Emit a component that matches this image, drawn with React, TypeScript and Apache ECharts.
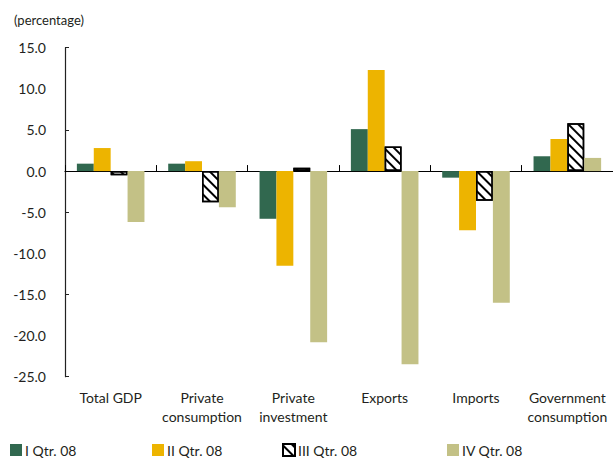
import React, { useEffect, useRef } from "react";
import * as echarts from "echarts";

const categories = [
  "Total GDP",
  "Private\nconsumption",
  "Private\ninvestment",
  "Exports",
  "Imports",
  "Government\nconsumption",
];
const seriesNames = ["I Qtr. 08", "II Qtr. 08", "III Qtr. 08", "IV Qtr. 08"];
const q1 = [0.9, 0.9, -5.8, 5.1, -0.8, 1.8];
const q2 = [2.8, 1.2, -11.5, 12.3, -7.2, 3.9];
const q3 = [-0.5, -3.8, 0.4, 3.0, -3.6, 5.8];
const q4 = [-6.2, -4.4, -20.8, -23.5, -16.0, 1.6];
const yMin = -25;
const yMax = 15;

const FONT = "Lato";
const TXT = "#231f20";

export default function App() {
  const ref = useRef<HTMLDivElement>(null);
  useEffect(() => {
    document.body.style.margin = "0";
    const chart = echarts.init(ref.current!, null, { renderer: "svg" });
    const hatch = {
      symbol: "rect",
      symbolSize: 1,
      color: "#000",
      backgroundColor: "#fff",
      dashArrayX: [1, 0],
      dashArrayY: [1.6, 4.4],
      rotation: Math.PI / 4,
    };
    const colors = ["#31684f", "#edb400", "#ffffff", "#c3c186"];
    const datas = [q1, q2, q3, q4];
    const legendLefts = [10, 152, 282, 447];
    chart.setOption({
      animation: false,
      textStyle: { fontFamily: FONT, color: TXT },
      title: {
        text: "(percentage)",
        left: 9,
        top: 8,
        textStyle: { fontFamily: FONT, fontSize: 13, fontWeight: "normal", color: TXT },
      },
      legend: seriesNames.map((n, i) => ({
        data: [n],
        left: legendLefts[i],
        top: 443,
        icon: "rect",
        itemWidth: 12,
        itemHeight: 12,
        itemGap: 4,
        padding: 0,
        textStyle: { fontFamily: FONT, fontSize: 14, color: TXT, padding: [0, 0, 0, -2] },
      })),
      grid: { left: 65, right: 0, top: 47.7, bottom: 81.3, containLabel: false },
      xAxis: [
        {
          type: "category",
          data: categories,
          position: "bottom",
          axisLine: { show: false, onZero: false },
          axisTick: { show: false },
          axisLabel: {
            interval: 0,
            margin: 11,
            fontFamily: FONT,
            fontSize: 14,
            color: TXT,
            lineHeight: 19,
          },
        },
        {
          type: "category",
          data: categories,
          position: "bottom",
          axisLine: { show: true, onZero: true, lineStyle: { color: "#000", width: 1.2 } },
          axisTick: { show: true, inside: true, length: 6, lineStyle: { color: "#000" } },
          axisLabel: { show: false },
        },
      ],
      yAxis: [
        {
          type: "value",
          min: yMin,
          max: yMax,
          interval: 5,
          axisLine: { show: true, lineStyle: { color: "#222", width: 1.2 } },
          axisTick: { show: false },
          splitLine: { show: false },
          axisLabel: {
            margin: 19,
            fontFamily: FONT,
            fontSize: 14,
            color: TXT,
            formatter: (v: number) => v.toFixed(1),
          },
        },
        {
          type: "value",
          min: yMin,
          max: yMax,
          interval: 10,
          position: "left",
          axisLine: { show: false },
          axisTick: { show: true, inside: true, length: 4, lineStyle: { color: "#222" } },
          splitLine: { show: false },
          axisLabel: { show: false },
        },
      ],
      series: seriesNames.map((n, i) => ({
        name: n,
        type: "bar",
        xAxisIndex: 0,
        yAxisIndex: 0,
        data: datas[i],
        barGap: "0%",
        barCategoryGap: "26%",
        itemStyle:
          i === 2
            ? { color: "#fff", borderColor: "#000", borderWidth: 1.5, decal: hatch }
            : { color: colors[i] },
      })),
    });
    return () => chart.dispose();
  }, []);
  return <div ref={ref} style={{ width: 613, height: 458 }} />;
}
